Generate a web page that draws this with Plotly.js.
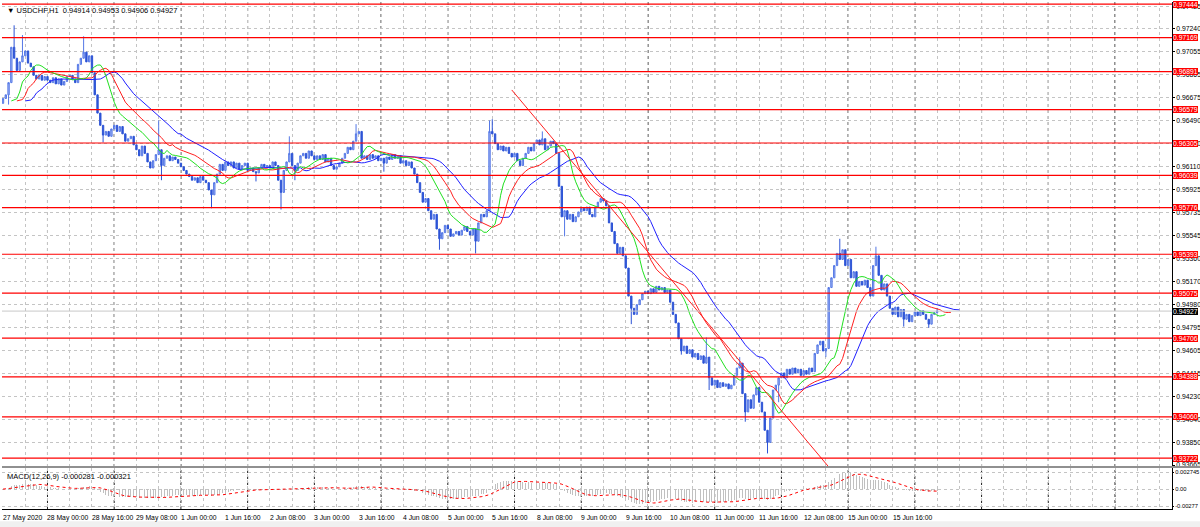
<!DOCTYPE html>
<html><head><meta charset="utf-8">
<script src="https://cdn.plot.ly/plotly-3.0.1.min.js"></script>
<style>html,body{margin:0;padding:0;background:#fff}#chart{width:1200px;height:527px}</style>
</head><body><div id="chart"></div>
<script>
// ---------- DATA ----------
const symbolTitle = "USDCHF,H1";
const lastOHLC = ["0.94914", "0.94953", "0.94906", "0.94927"];
const firstOpen = 0.9663;
// hourly closes, bar 0 = 27 May 2020 08:00 ... bar 336 = 16 Jun 08:00
const closes = [
0.9667,0.9670,0.9680,0.9709,0.9700,0.9690,0.9697,0.9702,0.9706,0.9696,0.9693,0.9686,0.9683,0.9686,0.9682,0.9685,
0.9682,0.9680,0.9684,0.9679,0.9683,0.9678,0.9681,0.9685,0.9686,0.9683,0.9680,0.9695,0.9700,0.9705,0.9697,0.9702,
0.9688,0.9670,0.9655,0.9645,0.9637,0.9640,0.9636,0.9642,0.9645,0.9640,0.9644,0.9638,0.9632,0.9634,0.9636,0.9629,
0.9625,0.9620,0.9628,0.9622,0.9615,0.9610,0.9616,0.9621,0.9625,0.9612,0.9618,0.9620,0.9616,0.9619,0.9617,0.9614,
0.9611,0.9608,0.9605,0.9603,0.9600,0.9602,0.9598,0.9603,0.9600,0.9598,0.9592,0.9588,0.9598,0.9605,0.9613,0.9608,
0.9615,0.9612,0.9615,0.9610,0.9614,0.9609,0.9612,0.9614,0.9608,0.9610,0.9607,0.9606,0.9610,0.9613,0.9611,0.9612,
0.9610,0.9615,0.9612,0.9600,0.9590,0.9608,0.9615,0.9622,0.9612,0.9608,0.9614,0.9620,0.9622,0.9618,0.9624,0.9620,
0.9617,0.9620,0.9617,0.9621,0.9615,0.9618,0.9612,0.9609,0.9611,0.9614,0.9618,0.9622,0.9627,0.9625,0.9632,0.9638,
0.9640,0.9618,0.9620,0.9617,0.9621,0.9618,0.9620,0.9616,0.9618,0.9614,0.9619,0.9617,0.9621,0.9618,0.9620,0.9614,
0.9616,0.9612,0.9615,0.9610,0.9605,0.9598,0.9590,0.9582,0.9585,0.9575,0.9568,0.9572,0.9560,0.9552,0.9557,0.9563,
0.9560,0.9554,0.9556,0.9558,0.9555,0.9559,0.9562,0.9558,0.9555,0.9560,0.9550,0.9565,0.9572,0.9570,0.9575,0.9640,
0.9638,0.9630,0.9625,0.9628,0.9624,0.9627,0.9622,0.9619,0.9622,0.9616,0.9612,0.9618,0.9622,0.9627,0.9624,0.9630,
0.9633,0.9629,0.9634,0.9625,0.9628,0.9632,0.9630,0.9622,0.9595,0.9570,0.9575,0.9568,0.9572,0.9566,0.9570,0.9574,
0.9577,0.9575,0.9578,0.9572,0.9570,0.9578,0.9582,0.9585,0.9583,0.9579,0.9565,0.9558,0.9548,0.9540,0.9545,0.9538,
0.9528,0.9505,0.9495,0.9490,0.9498,0.9502,0.9507,0.9509,0.9507,0.9511,0.9508,0.9513,0.9510,0.9512,0.9508,0.9510,
0.9500,0.9490,0.9483,0.9470,0.9460,0.9464,0.9458,0.9461,0.9455,0.9458,0.9453,0.9456,0.9450,0.9455,0.9438,0.9432,
0.9436,0.9430,0.9434,0.9431,0.9433,0.9429,0.9432,0.9440,0.9446,0.9450,0.9425,0.9410,0.9420,0.9413,0.9424,0.9430,
0.9418,0.9410,0.9395,0.9385,0.9405,0.9428,0.9432,0.9438,0.9442,0.9438,0.9445,0.9441,0.9446,0.9442,0.9445,0.9440,
0.9444,0.9441,0.9446,0.9443,0.9458,0.9465,0.9468,0.9460,0.9462,0.9512,0.9520,0.9530,0.9540,0.9535,0.9543,0.9530,
0.9535,0.9520,0.9525,0.9513,0.9517,0.9514,0.9518,0.9512,0.9505,0.9530,0.9538,0.9522,0.9510,0.9515,0.9505,0.9495,
0.9490,0.9496,0.9488,0.9494,0.9486,0.9490,0.9484,0.9489,0.9492,0.9489,0.9493,0.9490,0.9486,0.9482,0.9490,0.94914,
0.94927
];
// notable wick extremes
const wickHighBars = [4, 7, 29, 56, 103, 127, 175, 176, 194, 253, 265, 301, 314, 336];
const wickHighVals = [0.9727, 0.9719, 0.9718, 0.9649, 0.9636, 0.9646, 0.9649, 0.9650, 0.9640, 0.9471, 0.9455, 0.9552, 0.95455, 0.94953];
const wickLowBars = [2, 36, 57, 75, 91, 100, 105, 137, 157, 170, 202, 226, 244, 254, 267, 275, 279, 296, 324, 333, 336];
const wickLowVals = [0.9662, 0.9631, 0.9600, 0.9577, 0.9599, 0.9576, 0.9600, 0.9607, 0.9543, 0.9540, 0.9554, 0.9482, 0.9457, 0.9428, 0.9402, 0.9376, 0.9418, 0.9455, 0.9480, 0.9479, 0.94906];

const levels = [0.97444, 0.97169, 0.96891, 0.96579, 0.96305, 0.96039, 0.95776, 0.95393, 0.95075, 0.94706, 0.94388, 0.94060, 0.93722];
const currentPrice = 0.94927;
const priceTicks = [0.97425, 0.97240, 0.97055, 0.96865, 0.96675, 0.96490, 0.96300, 0.96110, 0.95925, 0.95735, 0.95545,
  0.95360, 0.95170, 0.94980, 0.94795, 0.94605, 0.94415, 0.94230, 0.94040, 0.93850, 0.93665];
const xLabelBars = [0,16,32,48,64,80,96,112,128,144,160,176,192,208,224,240,256,272,288,304,320];
const xLabelText = ["27 May 2020","28 May 00:00","28 May 16:00","29 May 08:00","1 Jun 00:00","1 Jun 16:00",
  "2 Jun 08:00","3 Jun 00:00","3 Jun 16:00","4 Jun 08:00","5 Jun 00:00","5 Jun 16:00","8 Jun 08:00",
  "9 Jun 00:00","9 Jun 16:00","10 Jun 08:00","11 Jun 00:00","11 Jun 16:00","12 Jun 08:00","15 Jun 00:00","15 Jun 16:00"];
const daySepBars = [16,40,64,88,112,136,160,184,208,232,256,280,304,328,352,376,400];
const trendBars = [183, 297];
const trendPrices = [0.9674, 0.9365];
const macdParams = [12, 26, 9];
const macdTicks = [0.002745, 0, -0.00277];
const macdTickText = ["0.002745", "0.00", "-0.00277"];
const macdLegend = "MACD(12,26,9) -0.000281 -0.000321";
// Alligator: [period, shift]
const jawSet = [13, 8], teethSet = [8, 5], lipsSet = [5, 3];

// ---------- derived tables ----------
const bars = closes.map((_, i) => i);
const opens = closes.map((c, i) => i === 0 ? firstOpen : closes[i - 1]);
const highs = closes.map((c, i) => Math.max(c, opens[i]));
const lows = closes.map((c, i) => Math.min(c, opens[i]));
wickHighBars.forEach((b, k) => { highs[b] = Math.max(highs[b], wickHighVals[k]); });
wickLowBars.forEach((b, k) => { lows[b] = Math.min(lows[b], wickLowVals[k]); });
const median = highs.map((h, i) => (h + lows[i]) / 2);

function smma(src, p) { const out = []; let v = src[0]; src.forEach((x, i) => { v = i === 0 ? x : (v * (p - 1) + x) / p; out.push(v); }); return out; }
function ema(src, p) { const k = 2 / (p + 1); const out = []; let v = src[0]; src.forEach((x, i) => { v = i === 0 ? x : v + k * (x - v); out.push(v); }); return out; }
function sma(src, p) { return src.map((_, i) => { const s = src.slice(Math.max(0, i - p + 1), i + 1); return s.reduce((a, b) => a + b, 0) / s.length; }); }
function alligator(set) { const v = smma(median, set[0]); return { x: bars.map(b => b + set[1]), y: v }; }
const jaw = alligator(jawSet), teeth = alligator(teethSet), lips = alligator(lipsSet);
const e1 = ema(closes, macdParams[0]), e2 = ema(closes, macdParams[1]);
const macdMain = e1.map((v, i) => v - e2[i]);
const macdSig = sma(macdMain, macdParams[2]);

// ---------- traces ----------
const traces = [
  { type: 'candlestick', x: bars, open: opens, high: highs, low: lows, close: closes, xaxis: 'x', yaxis: 'y',
    increasing: { line: { color: '#5578e6', width: 1 }, fillcolor: '#a9bcf3' },
    decreasing: { line: { color: '#2d54d6', width: 1 }, fillcolor: '#2d54d6' },
    whiskerwidth: 0, hoverinfo: 'skip', showlegend: false },
  { type: 'scatter', mode: 'lines', x: jaw.x, y: jaw.y, line: { color: '#2020ff', width: 1 }, hoverinfo: 'skip', showlegend: false },
  { type: 'scatter', mode: 'lines', x: teeth.x, y: teeth.y, line: { color: '#ff2020', width: 1 }, hoverinfo: 'skip', showlegend: false },
  { type: 'scatter', mode: 'lines', x: lips.x, y: lips.y, line: { color: '#20e020', width: 1 }, hoverinfo: 'skip', showlegend: false },
  { type: 'scatter', mode: 'lines', x: trendBars, y: trendPrices, line: { color: '#ff2020', width: 1 }, hoverinfo: 'skip', showlegend: false },
  { type: 'bar', x: bars, y: macdMain, xaxis: 'x', yaxis: 'y2', width: 0.35, marker: { color: '#c0c0c0', line: { width: 0 } }, hoverinfo: 'skip', showlegend: false },
  { type: 'scatter', mode: 'lines', x: bars, y: macdSig, xaxis: 'x', yaxis: 'y2', line: { color: '#ff0000', width: 1, dash: 'dot' }, hoverinfo: 'skip', showlegend: false }
];

// ---------- layout ----------
const FONT = 'Liberation Sans, Arial, sans-serif';
const TICKSIZE = 6.8;
const mainDom = [0.0848, 1], macdDom = [0, 0.0809];
const shapes = [];
daySepBars.forEach(b => shapes.push({ type: 'line', xref: 'x', yref: 'paper', x0: b, x1: b, y0: 0, y1: 1,
  line: { color: '#202020', width: 1, dash: '3px,3px' }, layer: 'below' }));
levels.forEach(v => shapes.push({ type: 'line', xref: 'paper', yref: 'y', x0: 0, x1: 1, y0: v, y1: v,
  line: { color: '#ff0000', width: 1.2 } }));
shapes.push({ type: 'line', xref: 'paper', yref: 'y', x0: 0, x1: 1, y0: currentPrice, y1: currentPrice, line: { color: '#c8c8c8', width: 1 } });
shapes.push({ type: 'rect', xref: 'paper', yref: 'paper', x0: 0, x1: 1.03, y0: macdDom[1], y1: mainDom[0], fillcolor: '#909090', line: { width: 0 } });
shapes.push({ type: 'rect', xref: 'paper', yref: 'paper', x0: -0.01, x1: 1.03, y0: -0.0355, y1: -0.024, fillcolor: '#f0f0f0', line: { width: 0 } });

const annotations = [];
levels.forEach(v => annotations.push({ xref: 'paper', yref: 'y', x: 1, y: v, xanchor: 'left', yanchor: 'middle', xshift: 1,
  text: v.toFixed(5), showarrow: false, bgcolor: '#ff0000', borderpad: 0, borderwidth: 0, font: { family: FONT, size: TICKSIZE, color: '#ffffff' } }));
annotations.push({ xref: 'paper', yref: 'y', x: 1, y: currentPrice, xanchor: 'left', yanchor: 'middle', xshift: 1,
  text: currentPrice.toFixed(5), showarrow: false, bgcolor: '#000000', borderpad: 0, borderwidth: 0, font: { family: FONT, size: TICKSIZE, color: '#ffffff' } });
xLabelBars.forEach((b, k) => annotations.push({ xref: 'x', yref: 'paper', x: b, y: 0, xanchor: 'left', yanchor: 'top', yshift: -3, xshift: -2,
  text: xLabelText[k], showarrow: false, font: { family: FONT, size: 6.8, color: '#000' } }));
annotations.push({ xref: 'paper', yref: 'paper', x: 0, y: 1, xanchor: 'left', yanchor: 'top', xshift: 3, yshift: -2,
  text: '\u25BC ' + symbolTitle + '  ' + lastOHLC.join(' '), showarrow: false, font: { family: FONT, size: 7.5, color: '#000' } });
annotations.push({ xref: 'paper', yref: 'paper', x: 0, y: macdDom[1], xanchor: 'left', yanchor: 'top', xshift: 3, yshift: -2,
  text: macdLegend, showarrow: false, font: { family: FONT, size: 7.5, color: '#000' } });

const gridTicks = []; for (let b = 0; b <= 420; b += 8) gridTicks.push(b);

const layout = {
  width: 1200, height: 527, paper_bgcolor: '#ffffff', plot_bgcolor: '#ffffff',
  margin: { l: 2, r: 28, t: 2, b: 18 }, showlegend: false, hovermode: false, bargap: 0,
  font: { family: FONT, size: TICKSIZE, color: '#000' },
  xaxis: { range: [-0.36, 420.5], anchor: 'y2', tickvals: gridTicks, showticklabels: false, ticks: '',
    showgrid: true, gridcolor: '#c4c4c4', griddash: '3px,3px', gridwidth: 1, zeroline: false,
    showline: true, linecolor: '#000', mirror: false, rangeslider: { visible: false }, fixedrange: true },
  yaxis: { domain: mainDom, range: [0.93657, 0.97461], side: 'right', anchor: 'x', tickvals: priceTicks,
    ticktext: priceTicks.map(v => v.toFixed(5)), ticks: 'outside', ticklen: 2, tickcolor: '#000',
    showgrid: true, gridcolor: '#c4c4c4', griddash: '3px,3px', zeroline: false,
    showline: true, linecolor: '#000', tickfont: { family: FONT, size: TICKSIZE, color: '#000' } },
  yaxis2: { domain: macdDom, range: [-0.0032, 0.0034], side: 'right', anchor: 'x', tickvals: macdTicks, ticktext: macdTickText,
    ticks: 'outside', ticklen: 1, tickcolor: '#000', showgrid: true, gridcolor: '#c4c4c4', griddash: '3px,3px',
    zeroline: false, showline: true, linecolor: '#000', tickfont: { family: FONT, size: 5.8, color: '#000' } },
  shapes: shapes, annotations: annotations
};
Plotly.newPlot('chart', traces, layout, { staticPlot: true, displayModeBar: false });
</script></body></html>
